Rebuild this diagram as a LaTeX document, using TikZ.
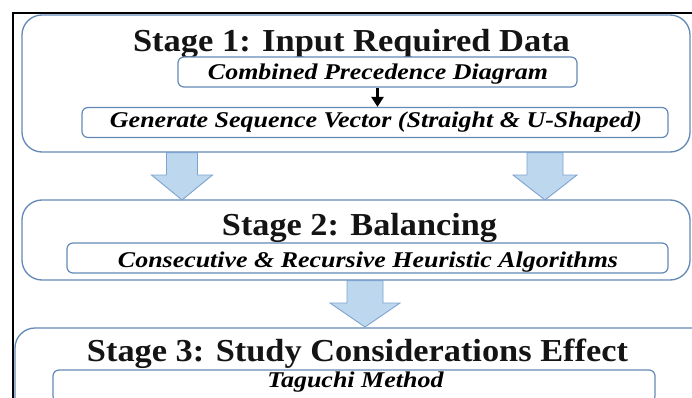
\documentclass[tikz,border=0pt]{standalone}
\usepackage{fontspec}
\setmainfont{Liberation Serif}
\usetikzlibrary{arrows.meta}
\definecolor{boxline}{HTML}{6389B8}
\definecolor{arrowfill}{HTML}{BDD7EE}
\definecolor{arrowline}{HTML}{7EA3CF}
\tikzset{
  stagebox/.style={draw=boxline, line width=1.3pt, rounded corners=20pt, fill=white},
  taskbox/.style={draw=boxline, line width=1.2pt, rounded corners=6pt, fill=white, inner sep=0pt},
  tasktext/.style={font=\fontsize{22.5}{25}\selectfont\bfseries\itshape, inner sep=0pt, anchor=base},
  title/.style={font=\fontsize{32}{36}\selectfont\bfseries, inner sep=0pt, anchor=base, text=black!92},
  blockarrow/.style={draw=arrowline, fill=arrowfill, line width=0.9pt, line join=miter},
}
% text stretched horizontally to a given width, height kept
\newcommand{\wide}[2]{\resizebox{#1}{\height}{#2}}
% block arrow: centre x, top y, head start y, tip y, half shaft, half head
\newcommand{\blockarr}[6]{%
  \draw[blockarrow] (#1-#5,#2) -- (#1+#5,#2) -- (#1+#5,#3) -- (#1+#6,#3)
    -- (#1,#4) -- (#1-#6,#3) -- (#1-#5,#3) -- cycle;}
\begin{document}
\begin{tikzpicture}[x=1pt,y=-1pt]
  \useasboundingbox (0,0) rectangle (692,398);
  \clip (0,0) rectangle (692,398);
  \fill[white] (0,0) rectangle (692,398);

  % outer frame (continues beyond the right and bottom edges)
  \draw[line width=2.2pt, black] (13,420) -- (13,13) -- (720,13);

  % stage 1
  \node[stagebox, minimum width=668pt, minimum height=137pt] (s1) at (356,83.5) {};
  \node[title] (t1) at (351.5,52) {\wide{437pt}{Stage 1: Input Required Data}};
  \node[taskbox, minimum width=399pt, minimum height=30pt] (cpd) at (377.5,72) {};
  \node[tasktext] (cpdt) at (378,80) {\wide{340pt}{Combined Precedence Diagram}};
  \node[taskbox, minimum width=586pt, minimum height=30pt] (gsv) at (375,122.5) {};
  \node[tasktext] (gsvt) at (376,128) {\wide{532pt}{Generate Sequence Vector (Straight \& U-Shaped)}};
  \draw[-{Triangle[length=10pt,width=12pt]}, line width=2.6pt, black]
    (cpd.south) -- (cpd.south |- gsv.north);

  % stage 2
  \node[stagebox, minimum width=668pt, minimum height=80pt] (s2) at (356,240) {};
  \node[title] (t2) at (359.5,235) {\wide{275pt}{Stage 2: Balancing}};
  \node[taskbox, minimum width=601pt, minimum height=30pt] (cra) at (367.5,258) {};
  \node[tasktext] (crat) at (368,267) {\wide{500pt}{Consecutive \& Recursive Heuristic Algorithms}};

  % stage 3
  \node[stagebox, minimum width=700pt, minimum height=100pt] (s3) at (365,378) {};
  \node[title] (t3) at (357.5,361) {\wide{541pt}{Stage 3: Study Considerations Effect}};
  \node[taskbox, minimum width=602pt, minimum height=32pt] (tag) at (354,386) {};
  \node[tasktext] (tagt) at (355.5,387) {\wide{176pt}{Taguchi Method}};

  % block arrows between stages
  \blockarr{182}{152.6}{175}{200}{15.5}{30.5}
  \blockarr{545}{152.6}{175}{200}{18}{32}
  \blockarr{365}{280.6}{303}{327}{18}{35}
\end{tikzpicture}
\end{document}
